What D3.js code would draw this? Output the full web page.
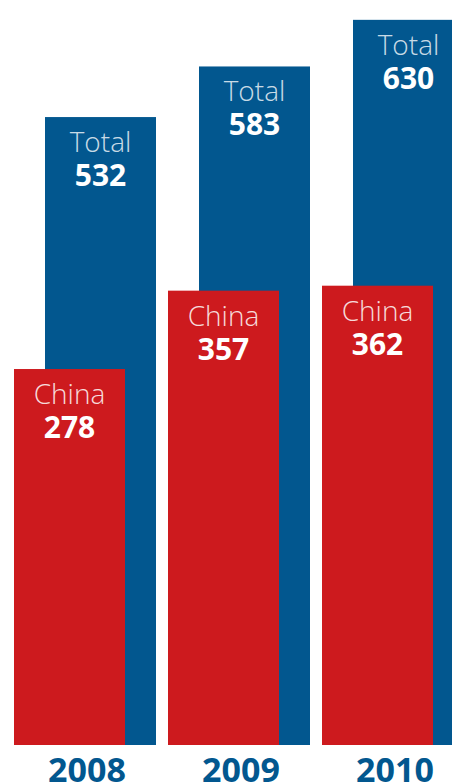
<!DOCTYPE html>
<html>
<head>
<meta charset="utf-8">
<style>
  body { margin: 0; background: #fff; }
  svg { display: block; }
</style>
</head>
<body>
<div id="chart"></div>

<script src="https://d3js.org/d3.v7.min.js"></script>

<script>
    // data
    var years = ["2008", "2009", "2010"];
    var totalValues = [532, 583, 630];
    var chinaValues = [278, 357, 362];
    var seriesLabels = ["Total", "China"];

    var width = 452, height = 783;
    var blue = "#02578f", red = "#cd1a1e";
    var baseline = 745;

    var svg = d3.select("#chart")
        .append("svg")
        .attr("width", width)
        .attr("height", height);

    // one band per year, each band holds a red bar and a blue bar offset behind it
    var x = d3.scaleBand()
        .domain(years)
        .range([14, 476])
        .paddingInner(0.0);

    var barW = 111, offset = 31;

    // baseline of the original is not zero, so the domain starts below it
    var y = d3.scaleLinear()
        .domain([-101, 650])
        .range([baseline, 0]);

    var rows = years.map(function(yr, i) {
        return { year: yr, total: totalValues[i], china: chinaValues[i] };
    });

    function drawSeries(key, color, dx, label, labelOpacity) {
        var g = svg.append("g").attr("class", key);
        g.selectAll("rect")
            .data(rows)
            .enter().append("rect")
            .attr("x", function(d) { return x(d.year) + dx; })
            .attr("y", function(d) { return y(d[key]); })
            .attr("width", barW)
            .attr("height", function(d) { return baseline - y(d[key]); })
            .attr("fill", color);

        g.selectAll("text.name")
            .data(rows)
            .enter().append("text")
            .attr("class", "name")
            .attr("x", function(d) { return x(d.year) + dx + barW / 2; })
            .attr("y", function(d) { return y(d[key]) + 35; })
            .attr("text-anchor", "middle")
            .attr("font-family", "'Open Sans', sans-serif")
            .attr("font-weight", 300)
            .attr("font-size", 28)
            .attr("fill", "#fff")
            .attr("fill-opacity", labelOpacity)
            .text(label);

        g.selectAll("text.val")
            .data(rows)
            .enter().append("text")
            .attr("class", "val")
            .attr("x", function(d) { return x(d.year) + dx + barW / 2; })
            .attr("y", function(d) { return y(d[key]) + 69; })
            .attr("text-anchor", "middle")
            .attr("font-family", "'Open Sans', sans-serif")
            .attr("font-weight", 700)
            .attr("font-size", 30)
            .attr("fill", "#fff")
            .text(function(d) { return d[key]; });
    }

    drawSeries("total", blue, offset, seriesLabels[0], 0.8);
    drawSeries("china", red, 0, seriesLabels[1], 0.85);

    // year labels under each pair
    svg.append("g")
        .selectAll("text")
        .data(years)
        .enter().append("text")
        .attr("x", function(d) { return x(d) + (barW + offset) / 2 + 2; })
        .attr("y", 782)
        .attr("text-anchor", "middle")
        .attr("font-family", "'Open Sans', sans-serif")
        .attr("font-weight", 700)
        .attr("font-size", 34)
        .attr("fill", blue)
        .text(function(d) { return d; });
</script>
</body>
</html>
